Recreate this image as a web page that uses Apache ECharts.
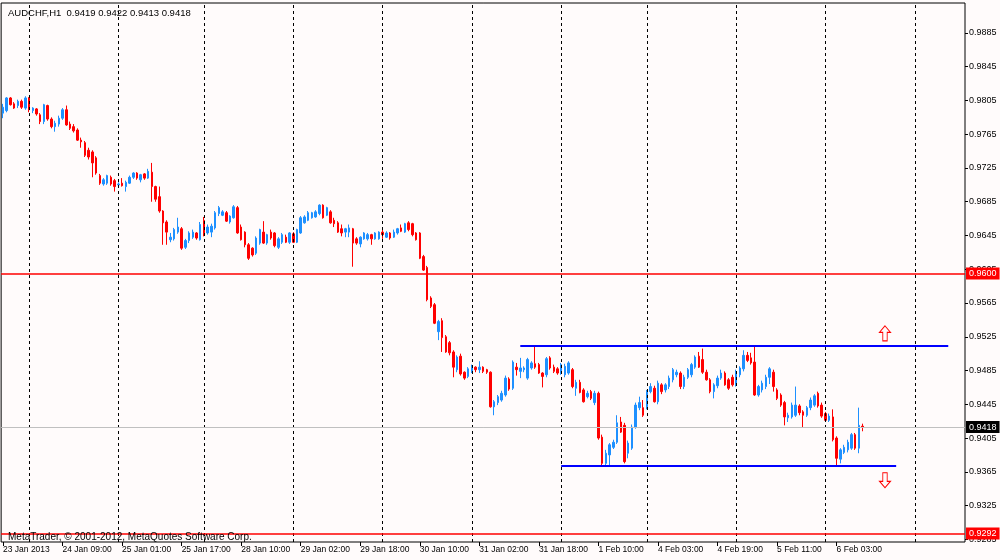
<!DOCTYPE html>
<html>
<head>
<meta charset="utf-8">
<script src="https://cdn.jsdelivr.net/npm/echarts@6.0.0/dist/echarts.min.js"></script>
<style>html,body{margin:0;padding:0;background:#fffbfb;}#c{width:1000px;height:560px;}</style>
</head>
<body>
<div id="c"></div>
<script>
// ---- data (AUDCHF, H1) ----
const sessions = [['23 Jan',17,23],['24 Jan',0,23],['25 Jan',0,22],['28 Jan',0,23],['29 Jan',0,23],['30 Jan',0,23],['31 Jan',0,23],['1 Feb',0,22],['4 Feb',0,23],['5 Feb',0,23],['6 Feb',0,23],['7 Feb',0,13]];

const openPrices = [
0.9790,0.9793,0.9808,0.9801,0.9799,0.9804,0.9796,0.9808,0.9793,0.9795,
0.9788,0.9780,0.9799,0.9783,0.9774,0.9777,0.9784,0.9794,0.9777,0.9774,
0.9770,0.9758,0.9755,0.9746,0.9744,0.9737,0.9716,0.9706,0.9707,0.9714,
0.9710,0.9705,0.9707,0.9703,0.9707,0.9714,0.9719,0.9711,0.9718,0.9713,
0.9720,0.9703,0.9691,0.9674,0.9661,0.9640,0.9641,0.9649,0.9653,0.9631,
0.9639,0.9643,0.9648,0.9640,0.9663,0.9648,0.9649,0.9654,0.9671,0.9669,
0.9672,0.9661,0.9666,0.9678,0.9655,0.9649,0.9634,0.9630,0.9624,0.9636,
0.9649,0.9636,0.9649,0.9648,0.9631,0.9637,0.9643,0.9637,0.9647,0.9637,
0.9648,0.9660,0.9663,0.9666,0.9667,0.9671,0.9681,0.9669,0.9673,0.9663,
0.9660,0.9653,0.9649,0.9649,0.9653,0.9641,0.9635,0.9641,0.9641,0.9646,
0.9641,0.9641,0.9649,0.9643,0.9648,0.9643,0.9648,0.9654,0.9649,0.9660,
0.9659,0.9648,0.9648,0.9620,0.9607,0.9571,0.9563,0.9531,0.9544,0.9525,
0.9518,0.9507,0.9486,0.9502,0.9483,0.9478,0.9484,0.9489,0.9486,0.9489,
0.9486,0.9483,0.9442,0.9447,0.9450,0.9456,0.9475,0.9464,0.9489,0.9484,
0.9486,0.9476,0.9488,0.9493,0.9492,0.9482,0.9480,0.9500,0.9489,0.9487,
0.9482,0.9480,0.9482,0.9486,0.9464,0.9471,0.9462,0.9454,0.9460,0.9447,
0.9458,0.9406,0.9375,0.9385,0.9394,0.9400,0.9424,0.9420,0.9387,0.9393,
0.9418,0.9441,0.9441,0.9442,0.9460,0.9464,0.9448,0.9468,0.9462,0.9466,
0.9474,0.9480,0.9482,0.9466,0.9477,0.9480,0.9489,0.9502,0.9498,0.9483,
0.9474,0.9460,0.9467,0.9476,0.9482,0.9474,0.9477,0.9468,0.9480,0.9487,
0.9503,0.9500,0.9495,0.9456,0.9462,0.9466,0.9477,0.9483,0.9462,0.9456,
0.9447,0.9429,0.9430,0.9432,0.9443,0.9436,0.9432,0.9441,0.9444,0.9458,
0.9444,0.9434,0.9426,0.9430,0.9405,0.9380,0.9388,0.9391,0.9393,0.9409,
0.9393,0.9419];

const closePrices = [
0.9797,0.9808,0.9800,0.9796,0.9804,0.9797,0.9808,0.9794,0.9796,0.9789,
0.9780,0.9800,0.9783,0.9774,0.9778,0.9784,0.9794,0.9776,0.9772,0.9769,
0.9758,0.9756,0.9740,0.9738,0.9731,0.9719,0.9707,0.9711,0.9716,0.9706,
0.9703,0.9706,0.9704,0.9708,0.9714,0.9719,0.9713,0.9717,0.9713,0.9721,
0.9703,0.9688,0.9674,0.9660,0.9649,0.9643,0.9652,0.9655,0.9630,0.9639,
0.9648,0.9649,0.9642,0.9658,0.9647,0.9655,0.9656,0.9672,0.9678,0.9673,
0.9662,0.9668,0.9679,0.9648,0.9640,0.9634,0.9618,0.9622,0.9642,0.9652,
0.9636,0.9646,0.9642,0.9633,0.9641,0.9646,0.9637,0.9648,0.9637,0.9652,
0.9666,0.9667,0.9672,0.9672,0.9673,0.9681,0.9666,0.9678,0.9660,0.9659,
0.9649,0.9648,0.9653,0.9654,0.9636,0.9636,0.9643,0.9648,0.9646,0.9641,
0.9648,0.9649,0.9646,0.9648,0.9642,0.9649,0.9653,0.9650,0.9659,0.9652,
0.9646,0.9640,0.9618,0.9604,0.9569,0.9561,0.9541,0.9543,0.9524,0.9507,
0.9506,0.9489,0.9501,0.9481,0.9476,0.9487,0.9489,0.9486,0.9489,0.9484,
0.9483,0.9442,0.9448,0.9454,0.9458,0.9476,0.9463,0.9495,0.9486,0.9488,
0.9488,0.9498,0.9494,0.9489,0.9482,0.9478,0.9499,0.9488,0.9484,0.9482,
0.9492,0.9490,0.9494,0.9466,0.9471,0.9459,0.9448,0.9458,0.9452,0.9458,
0.9405,0.9375,0.9387,0.9397,0.9400,0.9423,0.9412,0.9377,0.9399,0.9418,
0.9444,0.9447,0.9432,0.9460,0.9466,0.9448,0.9470,0.9460,0.9468,0.9476,
0.9486,0.9483,0.9466,0.9477,0.9486,0.9492,0.9501,0.9489,0.9483,0.9474,
0.9460,0.9468,0.9476,0.9482,0.9468,0.9464,0.9468,0.9483,0.9488,0.9503,
0.9497,0.9494,0.9456,0.9466,0.9470,0.9477,0.9487,0.9466,0.9452,0.9444,
0.9430,0.9432,0.9444,0.9444,0.9435,0.9432,0.9441,0.9450,0.9455,0.9443,
0.9431,0.9426,0.9431,0.9403,0.9381,0.9391,0.9394,0.9400,0.9409,0.9393,
0.9420,0.9418];

const lowPrices = [
0.9784,0.9791,0.9799,0.9795,0.9796,0.9795,0.9794,0.9791,0.9790,0.9787,
0.9777,0.9777,0.9781,0.9772,0.9768,0.9774,0.9782,0.9775,0.9770,0.9767,
0.9757,0.9749,0.9738,0.9735,0.9714,0.9717,0.9705,0.9704,0.9705,0.9704,
0.9697,0.9704,0.9703,0.9697,0.9706,0.9712,0.9711,0.9708,0.9711,0.9712,
0.9685,0.9685,0.9672,0.9634,0.9634,0.9637,0.9639,0.9647,0.9628,0.9629,
0.9636,0.9641,0.9640,0.9639,0.9644,0.9646,0.9643,0.9652,0.9668,0.9668,
0.9661,0.9659,0.9665,0.9647,0.9639,0.9631,0.9616,0.9620,0.9622,0.9634,
0.9635,0.9634,0.9640,0.9631,0.9629,0.9635,0.9636,0.9635,0.9636,0.9636,
0.9647,0.9659,0.9662,0.9665,0.9666,0.9669,0.9665,0.9668,0.9659,0.9655,
0.9648,0.9644,0.9643,0.9643,0.9608,0.9634,0.9631,0.9640,0.9639,0.9634,
0.9640,0.9640,0.9641,0.9642,0.9640,0.9642,0.9646,0.9649,0.9648,0.9650,
0.9644,0.9639,0.9617,0.9603,0.9567,0.9559,0.9540,0.9521,0.9507,0.9506,
0.9503,0.9477,0.9483,0.9479,0.9474,0.9476,0.9482,0.9483,0.9482,0.9482,
0.9481,0.9441,0.9432,0.9444,0.9448,0.9454,0.9461,0.9462,0.9479,0.9476,
0.9483,0.9474,0.9486,0.9487,0.9481,0.9465,0.9477,0.9486,0.9482,0.9480,
0.9480,0.9477,0.9480,0.9464,0.9455,0.9458,0.9447,0.9452,0.9450,0.9444,
0.9403,0.9373,0.9373,0.9373,0.9392,0.9398,0.9411,0.9375,0.9381,0.9391,
0.9416,0.9438,0.9430,0.9439,0.9458,0.9447,0.9445,0.9457,0.9459,0.9463,
0.9471,0.9477,0.9463,0.9463,0.9475,0.9477,0.9487,0.9488,0.9481,0.9473,
0.9458,0.9452,0.9464,0.9474,0.9467,0.9462,0.9466,0.9466,0.9477,0.9484,
0.9495,0.9492,0.9455,0.9454,0.9459,0.9463,0.9469,0.9460,0.9450,0.9442,
0.9420,0.9424,0.9428,0.9430,0.9432,0.9418,0.9430,0.9438,0.9442,0.9441,
0.9429,0.9424,0.9424,0.9401,0.9373,0.9375,0.9386,0.9388,0.9391,0.9391,
0.9387,0.9413];

const highPrices = [
0.9801,0.9809,0.9809,0.9803,0.9806,0.9806,0.9810,0.9809,0.9797,0.9796,
0.9790,0.9801,0.9800,0.9785,0.9781,0.9787,0.9796,0.9799,0.9780,0.9777,
0.9772,0.9761,0.9757,0.9749,0.9746,0.9739,0.9718,0.9713,0.9717,0.9716,
0.9712,0.9708,0.9713,0.9710,0.9716,0.9720,0.9720,0.9718,0.9719,0.9724,
0.9731,0.9704,0.9703,0.9675,0.9663,0.9648,0.9654,0.9666,0.9655,0.9641,
0.9650,0.9652,0.9649,0.9661,0.9667,0.9658,0.9659,0.9674,0.9680,0.9675,
0.9674,0.9669,0.9681,0.9680,0.9658,0.9650,0.9636,0.9631,0.9644,0.9653,
0.9662,0.9647,0.9652,0.9649,0.9643,0.9648,0.9646,0.9649,0.9649,0.9653,
0.9668,0.9669,0.9674,0.9673,0.9675,0.9682,0.9682,0.9679,0.9675,0.9666,
0.9662,0.9658,0.9654,0.9658,0.9654,0.9643,0.9644,0.9649,0.9648,0.9647,
0.9649,0.9650,0.9652,0.9650,0.9649,0.9652,0.9654,0.9658,0.9660,0.9662,
0.9660,0.9649,0.9649,0.9622,0.9609,0.9573,0.9565,0.9545,0.9547,0.9527,
0.9520,0.9509,0.9503,0.9505,0.9484,0.9489,0.9492,0.9490,0.9496,0.9490,
0.9487,0.9484,0.9450,0.9456,0.9461,0.9479,0.9477,0.9497,0.9494,0.9500,
0.9490,0.9500,0.9496,0.9513,0.9494,0.9483,0.9501,0.9502,0.9492,0.9489,
0.9494,0.9493,0.9496,0.9488,0.9474,0.9474,0.9464,0.9461,0.9462,0.9461,
0.9460,0.9409,0.9391,0.9399,0.9403,0.9432,0.9430,0.9423,0.9402,0.9421,
0.9447,0.9454,0.9450,0.9462,0.9470,0.9467,0.9473,0.9470,0.9470,0.9479,
0.9488,0.9486,0.9484,0.9480,0.9488,0.9494,0.9503,0.9507,0.9511,0.9486,
0.9476,0.9470,0.9479,0.9486,0.9484,0.9476,0.9480,0.9486,0.9490,0.9509,
0.9507,0.9506,0.9514,0.9468,0.9473,0.9480,0.9489,0.9486,0.9464,0.9458,
0.9449,0.9435,0.9447,0.9466,0.9445,0.9438,0.9443,0.9453,0.9457,0.9460,
0.9447,0.9436,0.9434,0.9439,0.9407,0.9393,0.9397,0.9403,0.9411,0.9411,
0.9441,0.9422];

const xTickLabels = ['23 Jan 2013','24 Jan 09:00','25 Jan 01:00','25 Jan 17:00','28 Jan 10:00','29 Jan 02:00','29 Jan 18:00','30 Jan 10:00','31 Jan 02:00','31 Jan 18:00','1 Feb 10:00','4 Feb 03:00','4 Feb 19:00','5 Feb 11:00','6 Feb 03:00'];
const yTicks = [0.9285,0.9325,0.9365,0.9405,0.9445,0.9485,0.9525,0.9565,0.9605,0.9645,0.9685,0.9725,0.9765,0.9805,0.9845,0.9885];

const headerText = 'AUDCHF,H1  0.9419 0.9422 0.9413 0.9418';
const copyrightText = 'MetaTrader, © 2001-2012, MetaQuotes Software Corp.';
const levelLines = [{price:0.9600, kind:'level'}, {price:0.9292, kind:'level'}, {price:0.9418, kind:'bid'}];
const channelUpper = {price:0.9514, from:139, to:254};
const channelLower = {price:0.9372, from:150, to:240};
const arrowUp = {bar:237, price:0.9529};
const arrowDown = {bar:237, price:0.9355};

// ---- build ----
const categories = [];
sessions.forEach(s => { for (let h = s[1]; h <= s[2]; h++) categories.push(s[0] + ' ' + (h < 10 ? '0' : '') + h + ':00'); });
const nBars = closePrices.length;
const ohlc = openPrices.map((o, i) => [o, closePrices[i], lowPrices[i], highPrices[i]]);
const dayStarts = categories.filter((c, i) => i > 0 && c.endsWith(' 00:00'));
const isLabelIdx = i => i % 16 === 0 && i < nBars && (i / 16) < xTickLabels.length;

const FONT = 'Liberation Sans';
const chart = echarts.init(document.getElementById('c'));
const upPath = 'path://M5,0 L10,6 L7,6 L7,14 L3,14 L3,6 L0,6 Z';
const downPath = 'path://M3,0 L7,0 L7,8 L10,8 L5,14 L0,8 L3,8 Z';

function levelSeries(l) {
  const isBid = l.kind === 'bid';
  const col = isBid ? '#c0c0c0' : '#ff0000';
  return {
    type: 'line', data: [], z: isBid ? 2 : 5, silent: true, clip: false, color: col,
    markLine: {silent: true, symbol: 'none', animation: false, precision: 4,
      lineStyle: {color: col, width: isBid ? 1 : 1.6, type: 'solid', opacity: 1},
      label: {show: true, position: 'end', distance: 1, formatter: l.price.toFixed(4), color: '#fff',
        backgroundColor: isBid ? '#000' : '#ff0000', padding: [2, 3, 1, 3], fontSize: 9, fontFamily: FONT},
      data: [{yAxis: l.price}]}
  };
}

chart.setOption({
  animation: false,
  backgroundColor: '#fffbfb',
  textStyle: {fontFamily: FONT},
  title: [
    {text: headerText, left: 3, top: 3, textStyle: {fontSize: 9.5, fontWeight: 'normal', color: '#000', fontFamily: FONT}},
    {text: copyrightText, left: 3, top: 527, textStyle: {fontSize: 10, fontWeight: 'normal', color: '#000', fontFamily: FONT}}
  ],
  grid: {left: 1, right: 35, top: 3, bottom: 18, show: true, borderColor: '#000', borderWidth: 1},
  xAxis: {
    type: 'category', data: categories, boundaryGap: true,
    axisLine: {show: false},
    axisTick: {show: true, alignWithLabel: true, length: 4, interval: (i) => isLabelIdx(i), lineStyle: {color: '#000'}},
    axisLabel: {interval: (i) => isLabelIdx(i), formatter: (v, i) => xTickLabels[i / 16] || '', align: 'left', fontSize: 8.5, color: '#000', margin: 3, fontFamily: FONT},
    splitLine: {show: false}
  },
  yAxis: {
    type: 'value', position: 'right', min: 0.92818, max: 0.99205,
    axisLine: {show: false},
    axisTick: {show: true, length: 3, customValues: yTicks, lineStyle: {color: '#000'}},
    axisLabel: {customValues: yTicks, formatter: v => v.toFixed(4), fontSize: 9, color: '#000', margin: 4, fontFamily: FONT},
    splitLine: {show: false}
  },
  series: [
    {
      type: 'line', data: [], z: 1, silent: true, color: '#000',
      markLine: {silent: true, symbol: 'none', animation: false, label: {show: false},
        lineStyle: {color: '#000', type: [3, 3], width: 1},
        data: dayStarts.map(c => ({xAxis: c}))}
    },
    ...levelLines.map(levelSeries),
    {
      type: 'candlestick', data: ohlc, z: 3, barWidth: 2,
      itemStyle: {color: '#1e90ff', color0: '#ff0000', borderColor: '#1e90ff', borderColor0: '#ff0000', borderWidth: 1}
    },
    {
      type: 'line', data: [], z: 4, silent: true, clip: false, color: '#0000ff',
      markLine: {silent: true, symbol: 'none', animation: false, precision: 4, label: {show: false},
        lineStyle: {color: '#0000ff', width: 2, type: 'solid'},
        data: [
          [{coord: [categories[channelUpper.from], channelUpper.price]}, {coord: [categories[channelUpper.to], channelUpper.price]}],
          [{coord: [categories[channelLower.from], channelLower.price]}, {coord: [categories[channelLower.to], channelLower.price]}]
        ]},
      markPoint: {silent: true, animation: false, label: {show: false},
        itemStyle: {color: '#fffbfb', borderColor: '#ff0000', borderWidth: 1},
        data: [
          {coord: [categories[arrowUp.bar], arrowUp.price], symbol: upPath, symbolSize: [11, 15]},
          {coord: [categories[arrowDown.bar], arrowDown.price], symbol: downPath, symbolSize: [11, 15]}
        ]}
    }
  ]
});
</script>
</body>
</html>
